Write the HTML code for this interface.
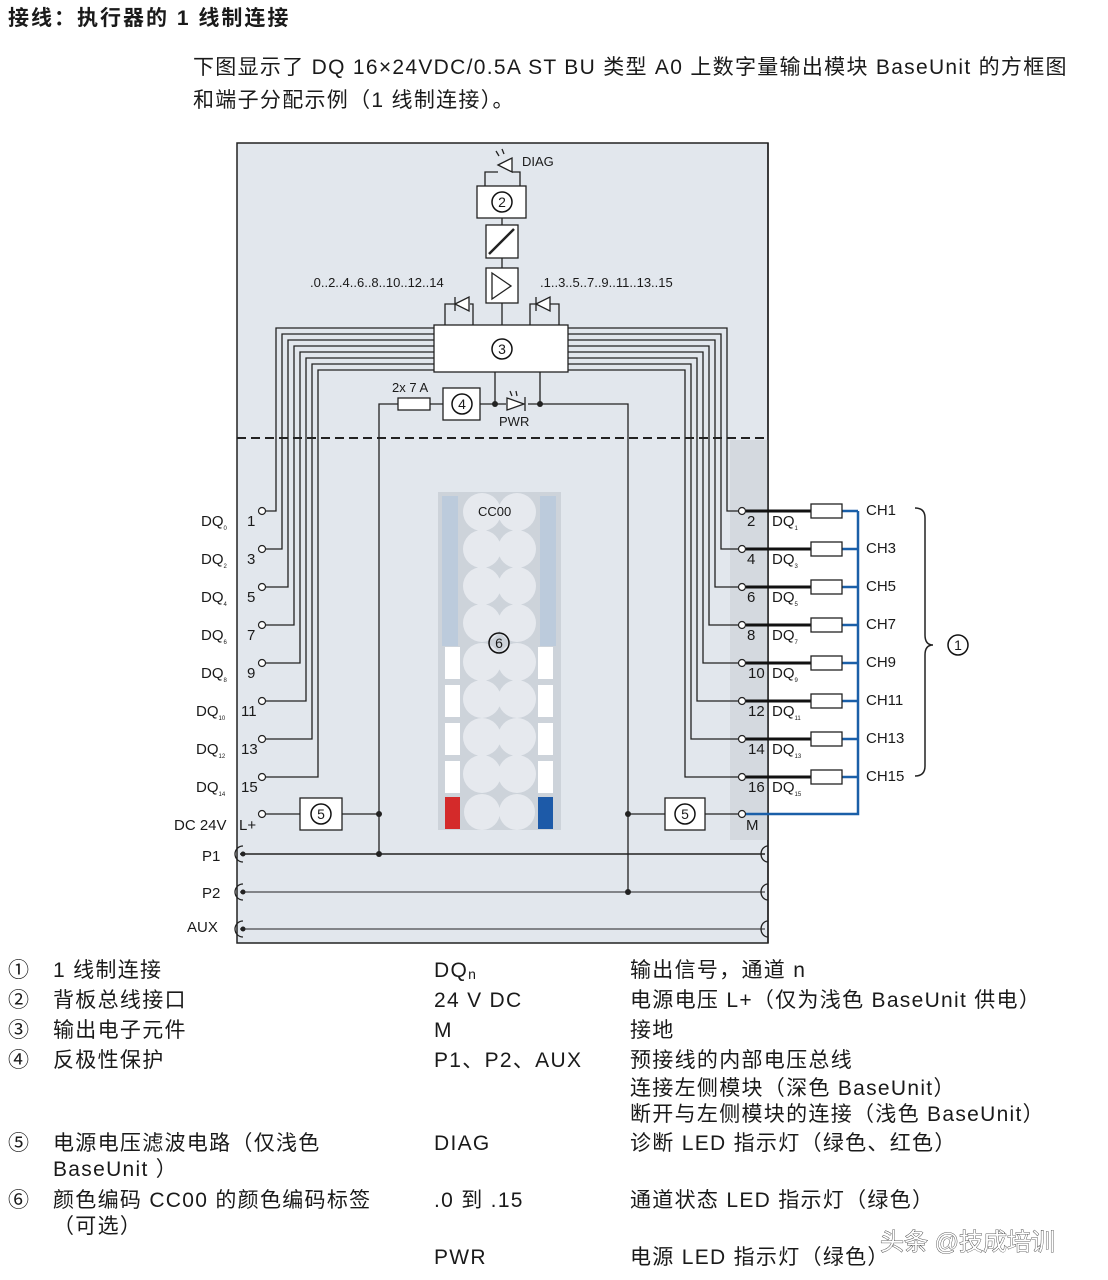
<!DOCTYPE html>
<html><head><meta charset="utf-8"><style>
html,body{margin:0;padding:0;background:#fff;}
svg{display:block;}
text{font-family:"Liberation Sans","Noto Sans CJK SC",sans-serif;fill:#1a1a1a;}
</style></head><body>
<svg width="1108" height="1280" viewBox="0 0 1108 1280" xmlns="http://www.w3.org/2000/svg">
<text x="8" y="25" font-size="21" font-weight="bold" letter-spacing="2">接线：执行器的 1 线制连接</text>
<text x="193" y="74" font-size="21" letter-spacing="1.3">下图显示了 DQ 16×24VDC/0.5A ST BU 类型 A0 上数字量输出模块 BaseUnit 的方框图</text>
<text x="193" y="107" font-size="21" letter-spacing="1.3">和端子分配示例（1 线制连接）。</text>

<rect x="237" y="143" width="531" height="800" fill="#e2e7ed" stroke="#222" stroke-width="1.5"/>
<rect x="730" y="440" width="38" height="400" fill="#d4d9df"/>
<line x1="237" y1="438" x2="768" y2="438" stroke="#222" stroke-width="2" stroke-dasharray="9,5"/>
<line x1="768" y1="143" x2="768" y2="943" stroke="#222" stroke-width="1.5"/>

<g stroke="#222" stroke-width="1.3" fill="none">
<path d="M485,186 V172 H498 M512,172 H520 V186"/>
<path d="M498,165 L512,158 V172 Z M512,158 V172" fill="#fff"/>
<path d="M499,156 l-3,-5 M504,154 l-2,-5" />
<rect x="477" y="186" width="49" height="32" fill="#fff"/>
<line x1="502" y1="218" x2="502" y2="225"/>
<rect x="486" y="225" width="32" height="33" fill="#fff"/>
<line x1="489" y1="254" x2="514" y2="229" stroke-width="2.5"/>
<line x1="502" y1="258" x2="502" y2="268"/>
<rect x="486" y="268" width="32" height="35" fill="#fff"/>
<path d="M492,273 L511,286 L492,299 Z" fill="#fff"/>
<line x1="502" y1="303" x2="502" y2="325"/>
<path d="M445,325 V304 H455 M470,304 H473 V325"/>
<path d="M455,304 L469,297 V311 Z M455,297 V311" fill="#fff"/>
<path d="M530,325 V304 H536 M550,304 H559 V325"/>
<path d="M536,304 L550,297 V311 Z M536,297 V311" fill="#fff"/>
<rect x="434" y="325" width="134" height="47" fill="#fff"/>
<path d="M495,372 V404 M540,372 V404"/>
<path d="M379,854 V404 H398 M430,404 H443 M480,404 H506 M528,404 H628 V892"/>
<rect x="398" y="398" width="32" height="12" fill="#fff"/>
<rect x="443" y="388" width="37" height="32" fill="#fff"/>
<path d="M507,398 V410 L524,404 Z M525,397 V411" fill="#fff"/>
<path d="M512,396 l-2,-5 M517,396 l-1,-5"/>
<path d="M434,328 H276 V511 H266"/>
<path d="M434,334 H282 V549 H266"/>
<path d="M434,340 H288 V587 H266"/>
<path d="M434,346 H294 V625 H266"/>
<path d="M434,352 H300 V663 H266"/>
<path d="M434,358 H306 V701 H266"/>
<path d="M434,364 H312 V739 H266"/>
<path d="M434,370 H318 V777 H266"/>
<path d="M568,328 H727 V511 H738"/>
<path d="M568,334 H721 V549 H738"/>
<path d="M568,340 H715 V587 H738"/>
<path d="M568,346 H709 V625 H738"/>
<path d="M568,352 H703 V663 H738"/>
<path d="M568,358 H697 V701 H738"/>
<path d="M568,364 H691 V739 H738"/>
<path d="M568,370 H685 V777 H738"/>
<path d="M266,814 H300 M342,814 H379 M628,814 H665 M705,814 H738"/>
<rect x="300" y="798" width="42" height="32" fill="#fff"/>
<rect x="665" y="798" width="40" height="32" fill="#fff"/>
<line x1="240" y1="854" x2="765" y2="854" stroke-width="1.6"/>
<line x1="240" y1="892" x2="765" y2="892" stroke-width="0.9"/>
<line x1="240" y1="929" x2="765" y2="929" stroke-width="0.9"/>
<path d="M243,846 a8,8 0 0 0 0,16 M243,884 a8,8 0 0 0 0,16 M243,921 a8,8 0 0 0 0,16"/>
<path d="M768,846 a7,8 0 0 0 0,16 M768,884 a7,8 0 0 0 0,16 M768,921 a7,8 0 0 0 0,16"/>
</g>
<g fill="#222">
<circle cx="495" cy="404" r="3"/><circle cx="540" cy="404" r="3"/>
<circle cx="379" cy="814" r="3"/><circle cx="379" cy="854" r="3"/>
<circle cx="628" cy="814" r="3"/><circle cx="628" cy="892" r="3"/>
<circle cx="243" cy="854" r="2.5"/><circle cx="243" cy="892" r="2.5"/><circle cx="243" cy="929" r="2.5"/>
</g>

<g stroke="#1a5fa8" stroke-width="2.5" fill="none">
<path d="M858,511 V814 H746"/>
<path d="M842,511 H858 M842,549 H858 M842,587 H858 M842,625 H858 M842,663 H858 M842,701 H858 M842,739 H858 M842,777 H858"/>
</g>
<g stroke="#111" stroke-width="3">
<path d="M746,511 H811 M746,549 H811 M746,587 H811 M746,625 H811 M746,663 H811 M746,701 H811 M746,739 H811 M746,777 H811"/>
</g>
<g stroke="#222" stroke-width="1.3" fill="#fff">
<rect x="811" y="504" width="31" height="14"/><rect x="811" y="542" width="31" height="14"/>
<rect x="811" y="580" width="31" height="14"/><rect x="811" y="618" width="31" height="14"/>
<rect x="811" y="656" width="31" height="14"/><rect x="811" y="694" width="31" height="14"/>
<rect x="811" y="732" width="31" height="14"/><rect x="811" y="770" width="31" height="14"/>
</g>
<g stroke="#222" stroke-width="1.2" fill="#fff">
<circle cx="262" cy="511" r="3.5"/><circle cx="262" cy="549" r="3.5"/><circle cx="262" cy="587" r="3.5"/><circle cx="262" cy="625" r="3.5"/>
<circle cx="262" cy="663" r="3.5"/><circle cx="262" cy="701" r="3.5"/><circle cx="262" cy="739" r="3.5"/><circle cx="262" cy="777" r="3.5"/><circle cx="262" cy="814" r="3.5"/>
<circle cx="742" cy="511" r="3.5"/><circle cx="742" cy="549" r="3.5"/><circle cx="742" cy="587" r="3.5"/><circle cx="742" cy="625" r="3.5"/>
<circle cx="742" cy="663" r="3.5"/><circle cx="742" cy="701" r="3.5"/><circle cx="742" cy="739" r="3.5"/><circle cx="742" cy="777" r="3.5"/><circle cx="742" cy="814" r="3.5"/>
</g>
<path d="M915,508 q10,0 10,10 V635 q0,10 8,10 q-8,0 -8,10 V766 q0,10 -10,10" stroke="#222" stroke-width="1.5" fill="none"/>

<rect x="438" y="492" width="123" height="338" fill="#cdd3da"/>
<rect x="442" y="496" width="16" height="150" fill="#bccbdc"/>
<rect x="540" y="496" width="16" height="150" fill="#bccbdc"/>
<g fill="#e6e9ee">
<circle cx="482" cy="512" r="19"/><circle cx="517" cy="512" r="19"/>
<circle cx="482" cy="549" r="19"/><circle cx="517" cy="549" r="19"/>
<circle cx="482" cy="586" r="19"/><circle cx="517" cy="586" r="19"/>
<circle cx="482" cy="623" r="19"/><circle cx="517" cy="623" r="19"/>
<circle cx="482" cy="662" r="19"/><circle cx="517" cy="662" r="19"/>
<circle cx="482" cy="699" r="19"/><circle cx="517" cy="699" r="19"/>
<circle cx="482" cy="737" r="19"/><circle cx="517" cy="737" r="19"/>
<circle cx="482" cy="774" r="19"/><circle cx="517" cy="774" r="19"/>
<circle cx="482" cy="812" r="18"/><circle cx="517" cy="812" r="18"/>
</g>
<g fill="#fff">
<rect x="445" y="647" width="15" height="32"/><rect x="445" y="685" width="15" height="32"/>
<rect x="445" y="723" width="15" height="32"/><rect x="445" y="761" width="15" height="32"/>
<rect x="538" y="647" width="15" height="32"/><rect x="538" y="685" width="15" height="32"/>
<rect x="538" y="723" width="15" height="32"/><rect x="538" y="761" width="15" height="32"/>
</g>
<rect x="445" y="797" width="15" height="32" fill="#d42a2a"/>
<rect x="538" y="797" width="15" height="32" fill="#1d5aa8"/>

<g stroke="#111" stroke-width="1.5" fill="none">
<circle cx="502" cy="202" r="10"/><circle cx="502" cy="349" r="10"/><circle cx="462" cy="404" r="10"/>
<circle cx="321" cy="814" r="10"/><circle cx="685" cy="814" r="10"/><circle cx="499" cy="643" r="10"/>
<circle cx="958" cy="645" r="10"/>
</g>
<g font-size="14" text-anchor="middle">
<text x="502" y="207">2</text><text x="502" y="354">3</text><text x="462" y="409">4</text>
<text x="321" y="819">5</text><text x="685" y="819">5</text><text x="499" y="648">6</text><text x="958" y="650">1</text>
</g>
<g font-size="13">
<text x="522" y="166">DIAG</text>
<text x="310" y="287">.0..2..4..6..8..10..12..14</text>
<text x="540" y="287">.1..3..5..7..9..11..13..15</text>
<text x="392" y="392">2x 7 A</text>
<text x="499" y="426">PWR</text>
<text x="478" y="516">CC00</text>
</g>
<g font-size="15">
<text x="201" y="526">DQ<tspan font-size="6" dy="4">0</tspan></text><text x="247" y="526">1</text>
<text x="201" y="564">DQ<tspan font-size="6" dy="4">2</tspan></text><text x="247" y="564">3</text>
<text x="201" y="602">DQ<tspan font-size="6" dy="4">4</tspan></text><text x="247" y="602">5</text>
<text x="201" y="640">DQ<tspan font-size="6" dy="4">6</tspan></text><text x="247" y="640">7</text>
<text x="201" y="678">DQ<tspan font-size="6" dy="4">8</tspan></text><text x="247" y="678">9</text>
<text x="196" y="716">DQ<tspan font-size="6" dy="4">10</tspan></text><text x="241" y="716">11</text>
<text x="196" y="754">DQ<tspan font-size="6" dy="4">12</tspan></text><text x="241" y="754">13</text>
<text x="196" y="792">DQ<tspan font-size="6" dy="4">14</tspan></text><text x="241" y="792">15</text>
<text x="174" y="830">DC 24V</text><text x="239" y="830">L+</text>
<text x="202" y="861">P1</text><text x="202" y="898">P2</text><text x="187" y="932">AUX</text>
</g>
<g font-size="15">
<text x="747" y="526">2</text><text x="772" y="526">DQ<tspan font-size="6" dy="4">1</tspan></text>
<text x="747" y="564">4</text><text x="772" y="564">DQ<tspan font-size="6" dy="4">3</tspan></text>
<text x="747" y="602">6</text><text x="772" y="602">DQ<tspan font-size="6" dy="4">5</tspan></text>
<text x="747" y="640">8</text><text x="772" y="640">DQ<tspan font-size="6" dy="4">7</tspan></text>
<text x="748" y="678">10</text><text x="772" y="678">DQ<tspan font-size="6" dy="4">9</tspan></text>
<text x="748" y="716">12</text><text x="772" y="716">DQ<tspan font-size="6" dy="4">11</tspan></text>
<text x="748" y="754">14</text><text x="772" y="754">DQ<tspan font-size="6" dy="4">13</tspan></text>
<text x="748" y="792">16</text><text x="772" y="792">DQ<tspan font-size="6" dy="4">15</tspan></text>
<text x="746" y="830">M</text>
<text x="866" y="515">CH1</text><text x="866" y="553">CH3</text><text x="866" y="591">CH5</text><text x="866" y="629">CH7</text>
<text x="866" y="667">CH9</text><text x="866" y="705">CH11</text><text x="866" y="743">CH13</text><text x="866" y="781">CH15</text>
</g>

<g font-size="21" letter-spacing="1.3">
<text x="8" y="977" letter-spacing="0">①</text><text x="53" y="977">1 线制连接</text><text x="434" y="977">DQ<tspan font-size="14" dy="2">n</tspan></text><text x="630" y="977">输出信号，通道 n</text>
<text x="8" y="1007" letter-spacing="0">②</text><text x="53" y="1007">背板总线接口</text><text x="434" y="1007">24 V DC</text><text x="630" y="1007">电源电压 L+（仅为浅色 BaseUnit 供电）</text>
<text x="8" y="1037" letter-spacing="0">③</text><text x="53" y="1037">输出电子元件</text><text x="434" y="1037">M</text><text x="630" y="1037">接地</text>
<text x="8" y="1067" letter-spacing="0">④</text><text x="53" y="1067">反极性保护</text><text x="434" y="1067">P1、P2、AUX</text><text x="630" y="1067">预接线的内部电压总线</text>
<text x="630" y="1095">连接左侧模块（深色 BaseUnit）</text>
<text x="630" y="1121">断开与左侧模块的连接（浅色 BaseUnit）</text>
<text x="8" y="1150" letter-spacing="0">⑤</text><text x="53" y="1150">电源电压滤波电路（仅浅色</text><text x="434" y="1150">DIAG</text><text x="630" y="1150">诊断 LED 指示灯（绿色、红色）</text>
<text x="53" y="1176">BaseUnit ）</text>
<text x="8" y="1207" letter-spacing="0">⑥</text><text x="53" y="1207">颜色编码 CC00 的颜色编码标签</text><text x="434" y="1207">.0 到 .15</text><text x="630" y="1207">通道状态 LED 指示灯（绿色）</text>
<text x="53" y="1233">（可选）</text>
<text x="434" y="1264">PWR</text><text x="630" y="1264">电源 LED 指示灯（绿色）</text>
</g>
<text x="880" y="1250" font-size="24" style="fill:#fff;stroke:#333;stroke-width:0.8;paint-order:stroke">头条 @技成培训</text>
</svg>
</body></html>
